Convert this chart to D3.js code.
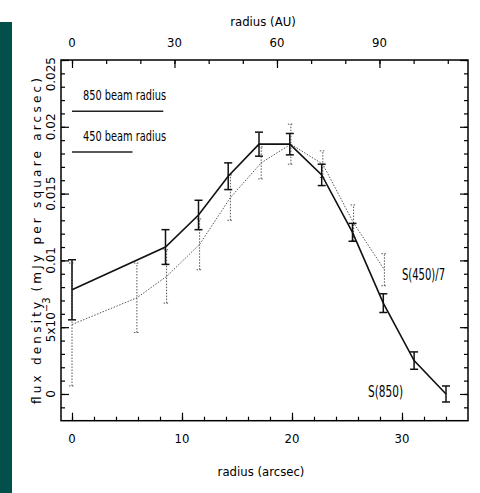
<!DOCTYPE html>
<html><head><meta charset="utf-8">
<script src="https://cdn.jsdelivr.net/npm/d3@7"></script>
<style>body{margin:0;background:#fff;overflow:hidden}</style>
</head><body><svg id="c" width="480" height="493"></svg>
<script>
// ---- data ----
const r850 = [0, 8.5, 11.5, 14.2, 17.0, 19.8, 22.7, 25.5, 28.3, 31.1, 34.0];
const s850 = [0.0078, 0.0110, 0.0134, 0.0163, 0.0187, 0.0187, 0.0164, 0.0121, 0.0068, 0.0025, 0.0000];
const e850 = [0.00225, 0.0013, 0.0011, 0.0010, 0.0009, 0.0008, 0.0008, 0.00067, 0.0007, 0.00065, 0.0006];
const r450 = [0, 5.9, 8.6, 11.6, 14.4, 17.2, 19.9, 22.8, 25.6, 28.4];
const s450 = [0.0052, 0.0072, 0.0088, 0.0112, 0.0147, 0.0173, 0.0187, 0.0172, 0.0128, 0.0093];
const e450 = [0.0046, 0.0026, 0.0020, 0.0019, 0.0017, 0.0012, 0.0015, 0.0010, 0.00135, 0.0012];
const beamLabels = ["850 beam radius", "450 beam radius"];
const beamRadius = [8.3, 5.5];
const beamLevel = [0.02117, 0.01812];
const xTicksArcsec = [0, 10, 20, 30];
const xTicksAU = [0, 30, 60, 90];
const yTicks = [0, 0.005, 0.01, 0.015, 0.02, 0.025];
const yTickLabels = ["0", "5x10", "0.01", "0.015", "0.02", "0.025"];
const auPerArcsec = 3.22;

// ---- layout ----
const svg = d3.select("#c");
const L = 61, R = 468, T = 60, B = 420.7;
const x = d3.scaleLinear().domain([-1, 36]).range([L, R]);
const xau = d3.scaleLinear().domain([-1 * auPerArcsec, 36 * auPerArcsec]).range([L, R]);
const y = d3.scaleLinear().domain([-0.002, 0.025]).range([B, T]);
const narrow = "'Liberation Sans Narrow','DejaVu Sans Condensed','Arial Narrow',sans-serif";
const wide = "'DejaVu Sans',sans-serif";

svg.append("rect").attr("x", 0).attr("y", 22).attr("width", 12).attr("height", 471).attr("fill", "#02504b");

// frame
svg.append("rect").attr("x", L).attr("y", T).attr("width", R - L).attr("height", B - T)
  .attr("fill", "none").attr("stroke", "#000").attr("stroke-width", 1.5);

function ticks(axis, tickVals, size) {
  return axis.tickValues(tickVals).tickSize(size).tickFormat("");
}
const axStyle = g => { g.select(".domain").remove(); g.selectAll("line").attr("stroke", "#000").attr("stroke-width", 1.2); };

svg.append("g").attr("transform", `translate(0,${B})`).call(ticks(d3.axisBottom(x), d3.range(0, 36, 2), -4)).call(axStyle);
svg.append("g").attr("transform", `translate(0,${B})`).call(ticks(d3.axisBottom(x), xTicksArcsec, -8)).call(axStyle);
svg.append("g").attr("transform", `translate(0,${T})`).call(ticks(d3.axisTop(xau), d3.range(0, 116, 10), -4)).call(axStyle);
svg.append("g").attr("transform", `translate(0,${T})`).call(ticks(d3.axisTop(xau), xTicksAU, -8)).call(axStyle);
const yMinor = d3.range(-0.001, 0.0251, 0.001);
svg.append("g").attr("transform", `translate(${L},0)`).call(ticks(d3.axisLeft(y), yMinor, -4)).call(axStyle);
svg.append("g").attr("transform", `translate(${L},0)`).call(ticks(d3.axisLeft(y), yTicks, -8)).call(axStyle);
svg.append("g").attr("transform", `translate(${R},0)`).call(ticks(d3.axisRight(y), yMinor, -4)).call(axStyle);
svg.append("g").attr("transform", `translate(${R},0)`).call(ticks(d3.axisRight(y), yTicks, -8)).call(axStyle);

// tick labels
svg.selectAll(".xl").data(xTicksArcsec).join("text").attr("x", d => x(d)).attr("y", 443)
  .attr("text-anchor", "middle").attr("font-family", narrow).attr("font-size", 13).text(d => d);
svg.selectAll(".xa").data(xTicksAU).join("text").attr("x", d => xau(d)).attr("y", 47)
  .attr("text-anchor", "middle").attr("font-family", narrow).attr("font-size", 13).text(d => d);
yTicks.forEach((v, i) => {
  let yy = y(v), anchor = "middle";
  if (i === yTicks.length - 1) { yy = y(v) - 3; anchor = "end"; }
  if (i === 1) { yy = y(v) + 15; anchor = "start"; }
  const t = svg.append("text").attr("transform", `translate(55,${yy}) rotate(-90)`)
    .attr("text-anchor", anchor).attr("font-family", wide).attr("font-size", 12).text(yTickLabels[i]);
  if (i === 1) t.append("tspan").attr("dy", -5).attr("font-size", 10).text("−3");
});

// axis titles
svg.append("text").attr("x", 263).attr("y", 26).attr("text-anchor", "middle")
  .attr("font-family", narrow).attr("font-size", 13).text("radius (AU)");
svg.append("text").attr("x", 261).attr("y", 476).attr("text-anchor", "middle")
  .attr("font-family", narrow).attr("font-size", 13).text("radius (arcsec)");
svg.append("text").attr("transform", "translate(41,241) rotate(-90)").attr("text-anchor", "middle")
  .attr("font-family", wide).attr("font-size", 12).attr("textLength", 326).attr("lengthAdjust", "spacing")
  .text("flux density (mJy per square arcsec)");

// legend beams
beamLabels.forEach((lab, i) => {
  svg.append("text").attr("x", 83).attr("y", y(beamLevel[i]) - 11).attr("font-family", narrow)
    .attr("font-size", 14).attr("textLength", 83).attr("lengthAdjust", "spacingAndGlyphs").text(lab);
  svg.append("line").attr("x1", x(0)).attr("x2", x(beamRadius[i])).attr("y1", y(beamLevel[i])).attr("y2", y(beamLevel[i]))
    .attr("stroke", "#222").attr("stroke-width", 1.5);
});

// 450 series (dotted)
const d450 = r450.map((r, i) => ({ r, s: s450[i], e: e450[i] }));
const d850 = r850.map((r, i) => ({ r, s: s850[i], e: e850[i] }));
const line = d3.line().x(d => x(d.r)).y(d => y(d.s));
const dot = "1.5,1.5";
svg.append("path").datum(d450).attr("d", line).attr("fill", "none").attr("stroke", "#555")
  .attr("stroke-width", 1).attr("stroke-dasharray", dot);
const g450 = svg.append("g").attr("stroke", "#555").attr("stroke-width", 1).attr("stroke-dasharray", dot);
d450.forEach(d => {
  g450.append("line").attr("x1", x(d.r)).attr("x2", x(d.r)).attr("y1", y(d.s - d.e)).attr("y2", y(d.s + d.e));
  [d.s - d.e, d.s + d.e].forEach(v => g450.append("line").attr("x1", x(d.r) - 3).attr("x2", x(d.r) + 3).attr("y1", y(v)).attr("y2", y(v)));
});

// 850 series (solid)
svg.append("path").datum(d850).attr("d", line).attr("fill", "none").attr("stroke", "#111").attr("stroke-width", 1.6);
const g850 = svg.append("g").attr("stroke", "#111").attr("stroke-width", 1.5);
d850.forEach(d => {
  g850.append("line").attr("x1", x(d.r)).attr("x2", x(d.r)).attr("y1", y(d.s - d.e)).attr("y2", y(d.s + d.e));
  [d.s - d.e, d.s + d.e].forEach(v => g850.append("line").attr("x1", x(d.r) - 4).attr("x2", x(d.r) + 4).attr("y1", y(v)).attr("y2", y(v)));
});

// series labels
svg.append("text").attr("x", 402).attr("y", 280).attr("font-family", narrow).attr("font-size", 15)
  .attr("textLength", 43).attr("lengthAdjust", "spacingAndGlyphs").text("S(450)/7");
svg.append("text").attr("x", 368).attr("y", 397).attr("font-family", narrow).attr("font-size", 15)
  .attr("textLength", 35).attr("lengthAdjust", "spacingAndGlyphs").text("S(850)");
</script></body></html>
